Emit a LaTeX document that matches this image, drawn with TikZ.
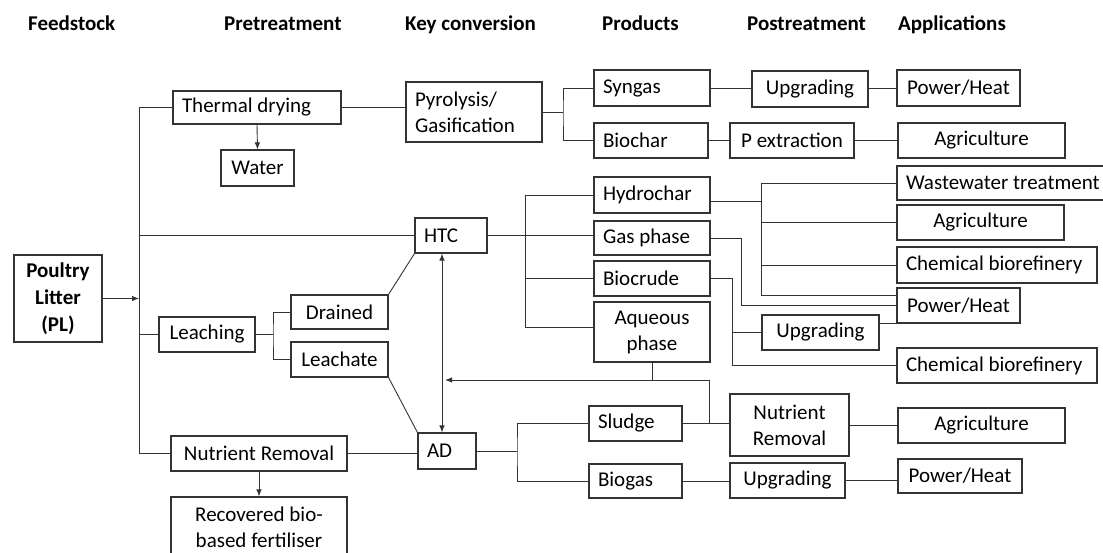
\documentclass[tikz,border=0pt]{standalone}
\usepackage{fontspec}
\setmainfont{Carlito}
\usetikzlibrary{arrows.meta}
\tikzset{
  box/.style={draw=black!80, line width=1.1pt, rectangle, inner ysep=0pt, font=\fontsize{21}{26}\selectfont},
  hdr/.style={anchor=base west, inner sep=0pt, font=\fontsize{21}{26}\selectfont\bfseries},
  ln/.style={draw=black!80, line width=0.9pt},
  ar/.style={ln, -{Latex[length=7pt,width=5.5pt]}},
  dar/.style={ln, {Latex[length=7pt,width=5.5pt]}-{Latex[length=7pt,width=5.5pt]}}
}
\newcommand{\lbox}[6]{%
  \pgfmathsetmacro\bxw{#4-#2}%
  \pgfmathsetmacro\bxh{#5-#3}%
  \pgfmathsetmacro\bxt{#4-#2-18}%
  \pgfmathsetmacro\bxx{(#2+#4)/2}%
  \pgfmathsetmacro\bxy{(#3+#5)/2}%
  \node[box, minimum width=\bxw pt, minimum height=\bxh pt, text width=\bxt pt, inner xsep=9pt, align=left] (#1) at (\bxx,\bxy) {\spaceskip=0pt\xspaceskip=0pt\relax #6};}
\newcommand{\cbox}[7][]{%
  \pgfmathsetmacro\bxw{#5-#3}%
  \pgfmathsetmacro\bxh{#6-#4}%
  \pgfmathsetmacro\bxx{(#3+#5)/2}%
  \pgfmathsetmacro\bxy{(#4+#6)/2}%
  \node[box, minimum width=\bxw pt, minimum height=\bxh pt, inner xsep=0pt, align=center, #1] (#2) at (\bxx,\bxy) {\spaceskip=0pt\xspaceskip=0pt\relax #7};}
\begin{document}
\begin{tikzpicture}[x=1pt,y=-1pt]
\fill[white] (0,0) rectangle (1103,553);
\useasboundingbox (0,0) rectangle (1103,553);
% headers
\node[hdr] (h1) at (28,31) {Feedstock};
\node[hdr] (h2) at (224,31) {Pretreatment};
\node[hdr] (h3) at (405,31) {Key conversion};
\node[hdr] (h4) at (602,31) {Products};
\node[hdr] (h5) at (747,31) {Postreatment};
\node[hdr] (h6) at (898,31) {Applications};
% boxes
\cbox[font=\fontsize{21}{27}\selectfont\bfseries]{pl}{14}{255}{102}{342}{Poultry\\Litter\\(PL)}
\lbox{td}{173}{91}{341}{124}{Thermal drying}
\cbox{water}{221}{150}{294}{186}{Water}
\lbox{pyro}{406}{82}{542}{142}{Pyrolysis/\\Gasification}
\lbox{htc}{415}{218}{487}{253}{HTC}
\cbox{leach}{159}{317}{255}{352}{Leaching}
\cbox{drained}{291}{295}{388}{329}{Drained}
\cbox{leachate}{291}{342}{388}{377}{Leachate}
\cbox{nr}{171}{436}{347}{471}{Nutrient Removal}
\cbox{rec}{171}{497}{347}{558}{Recovered bio-\\based fertiliser}
\lbox{ad}{418}{433}{476}{469}{AD}
\lbox{syn}{594}{70}{710}{106}{Syngas}
\lbox{bio}{594}{123}{708}{158}{Biochar}
\cbox{upg1}{752}{71}{868}{107}{Upgrading}
\cbox{ph1}{897}{70}{1020}{106}{Power/Heat}
\cbox{pext}{730}{123}{854}{158}{P extraction}
\cbox{agri1}{898}{123}{1065}{158}{Agriculture}
\lbox{hydro}{594}{177}{710}{213}{Hydrochar}
\lbox{gas}{594}{221}{710}{255}{Gas phase}
\lbox{bcr}{594}{261}{710}{296}{Biocrude}
\cbox{aq}{594}{302}{710}{362}{Aqueous\\phase}
\lbox{ww}{897}{166}{1106}{200}{\mbox{Wastewater treatment}}
\cbox{agri2}{897}{205}{1064}{240}{Agriculture}
\lbox{chem1}{897}{247}{1097}{283}{\mbox{Chemical biorefinery}}
\cbox{ph2}{897}{288}{1020}{323}{Power/Heat}
\cbox{upg2}{762}{315}{879}{350}{Upgrading}
\lbox{chem2}{897}{348}{1097}{383}{\mbox{Chemical biorefinery}}
\lbox{sludge}{589}{406}{682}{441}{Sludge}
\cbox{nr2}{730}{394}{849}{456}{Nutrient\\Removal}
\cbox{agri3}{898}{408}{1065}{443}{Agriculture}
\lbox{biogas}{589}{464}{682}{498}{Biogas}
\cbox{upg3}{730}{463}{845}{498}{Upgrading}
\cbox{ph3}{898}{459}{1022}{493}{Power/Heat}
% junction coordinates
\coordinate (busT) at (139,107.5);
\coordinate (busB) at (139,453.5);
\coordinate (pb) at (563,112);
\coordinate (hbB) at (525,327);
\coordinate (hr) at (761,201);
\coordinate (b2T) at (761,183);
\coordinate (b2B) at (761,295);
\coordinate (gx) at (741,305.5);
\coordinate (cx) at (732,300);
\coordinate (lb) at (273,334.5);
\coordinate (aqd) at (652,380);
\coordinate (nj) at (709,380);
\coordinate (ah) at (445,380);
\coordinate (vx) at (442,300);
\coordinate (ab) at (517,451);
% feedstock bus
\draw[ln] (busT) -- (busB);
\draw[ar] (pl.east) -- (pl.east -| busT);
\draw[ln] (busT) -- (td.west);
\draw[ln] (htc.west -| busT) -- (htc.west);
\draw[ln] (leach.west -| busT) -- (leach.west);
\draw[ln] (busB) -- (nr.west);
% thermal route
\draw[ar] (td.south) -- (water.north);
\draw[ln] (td.east) -- (td.east -| pyro.west);
\draw[ln] (pyro.east |- pb) -- (pb);
\draw[ln] (syn.west) -| (pb) |- (bio.west);
\draw[ln] (syn.east) -- (syn.east -| upg1.west);
\draw[ln] (upg1.east |- ph1.west) -- (ph1.west);
\draw[ln, line width=1.3pt] (bio.east) -- (pext.west);
\draw[ln] (pext.east) -- (pext.east -| agri1.west);
% leaching
\draw[ln] (leach.east) -- (lb);
\draw[ln] (drained.west) -| (lb) |- (leachate.west);
\draw[ln] (drained.north east) -- (htc.south west);
\draw[ln] (leachate.south east) -- (ad.north west);
% HTC
\draw[ln] (htc.east) -- (htc.east -| gas.west);
\draw[ln] (hydro.west) -| (hbB) -- (hbB -| aq.west);
\draw[ln] (hbB |- bcr.west) -- (bcr.west);
\draw[ln] (hydro.east |- hr) -- (hr);
\draw[ln] (b2T) -- (b2B);
\draw[ln] (b2T) -- (ww.west);
\draw[ln] (b2T |- agri2.west) -- (agri2.west);
\draw[ln] (b2T |- chem1.west) -- (chem1.west);
\draw[ln] (b2B) -- (b2B -| ph2.west);
\draw[ln] (gas.east) -| (gx) -- (ph2.west);
\draw[ln] (bcr.east) -| (cx |- chem2.west) -- (chem2.west);
\draw[ln] (cx |- upg2.west) -- (upg2.west);
\draw[ln] (ph2.south west -| upg2.east) -- (ph2.south west);
% aqueous phase recycle
\draw[ln] (aq.south) -- (aqd);
\draw[ar] (nj) -- (ah);
\draw[ln] (nj) -- (nj |- sludge.east);
\draw[dar] (htc.south -| vx) -- (ad.north -| vx);
% AD
\draw[ln] (nr.east) -- (nr.east -| ad.west);
\draw[ar] (nr.south) -- (rec.north);
\draw[ln] (ad.east) -- (ad.east -| ab);
\draw[ln] (sludge.west) -| (ab) |- (biogas.west);
\draw[ln] (sludge.east) -- (sludge.east -| nr2.west);
\draw[ln] (nr2.east) -- (nr2.east -| agri3.west);
\draw[ln] (biogas.east) -- (biogas.east -| upg3.west);
\draw[ln] (upg3.east) -- (upg3.east -| ph3.west);
\end{tikzpicture}
\end{document}
